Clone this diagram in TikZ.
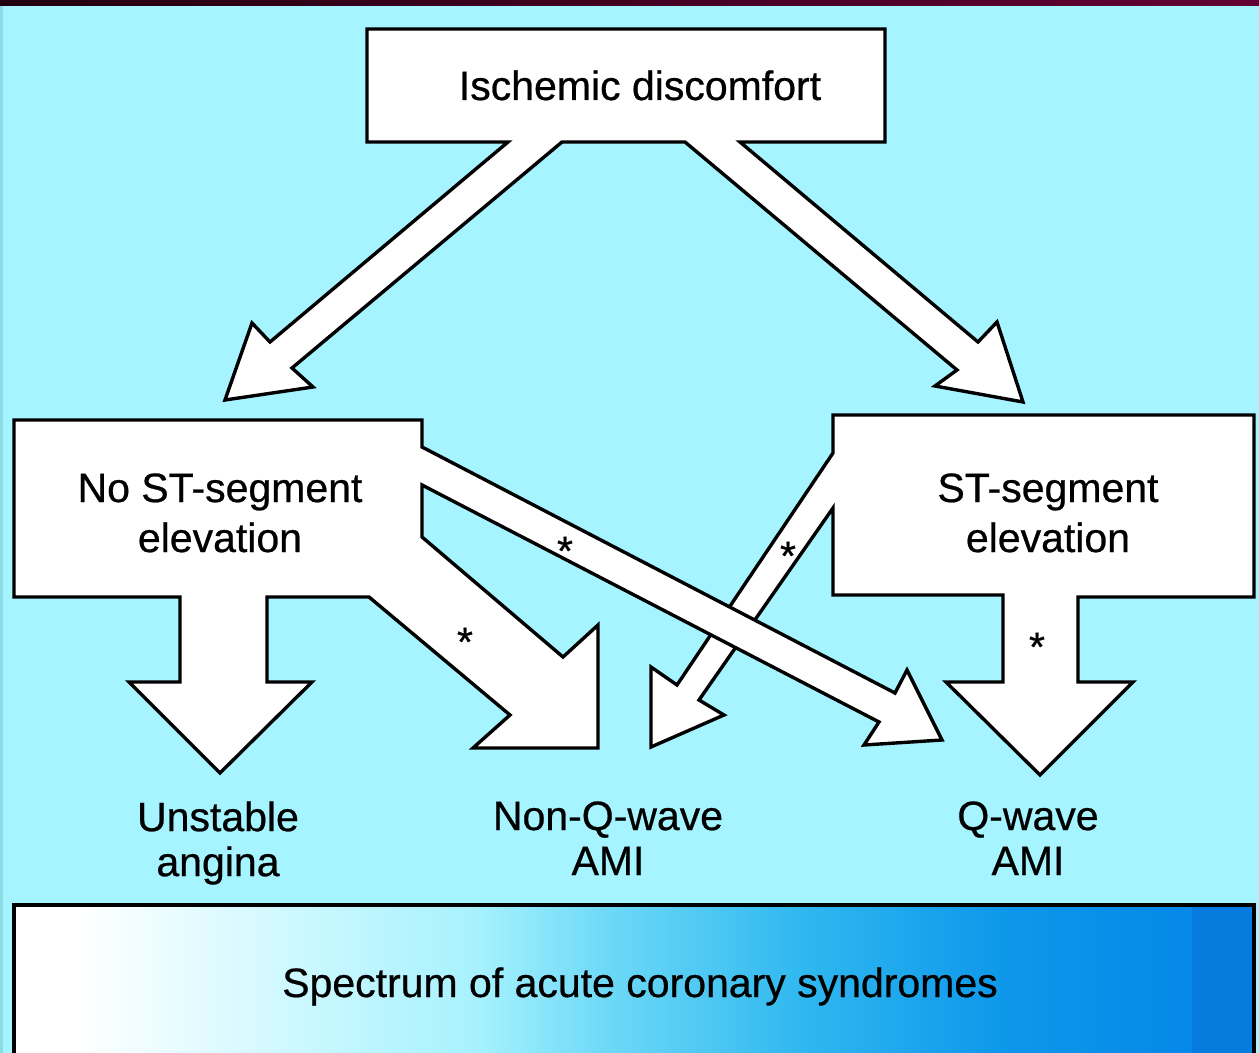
\documentclass[tikz,border=0pt]{standalone}
\usepackage{fontspec}
\setmainfont{Liberation Sans}[FakeBold=0.6]
\definecolor{bgcyan}{HTML}{A5F4FF}
\definecolor{edgecyan}{HTML}{8CDCE8}
\definecolor{topL}{HTML}{22000F}
\definecolor{topR}{HTML}{630033}
\definecolor{gA}{HTML}{FFFFFF}
\definecolor{gB}{HTML}{CCF8FF}
\definecolor{gC}{HTML}{A6F1FD}
\definecolor{gD}{HTML}{70DAF7}
\definecolor{gE}{HTML}{30B8F0}
\definecolor{gF}{HTML}{0E98EA}
\definecolor{gG}{HTML}{0588E8}
\definecolor{gH}{HTML}{067CDE}
\begin{document}
\begin{tikzpicture}[x=0.5pt,y=-0.5pt,
  blockshape/.style={draw=black, fill=white, line width=1.7pt, line join=miter},
  lbl/.style={font=\fontsize{20.5}{25}\selectfont, align=center, inner sep=0pt},
  lbltwo/.style={font=\fontsize{20.5}{22.5}\selectfont, align=center, inner sep=0pt},
  starmark/.style={font=\fontsize{20.5}{25}\selectfont, inner sep=0pt, anchor=base}]
\useasboundingbox (0,0) rectangle (1259,1053);
% background
\fill[bgcyan] (0,0) rectangle (1259,1053);
\fill[edgecyan] (0,6) rectangle (3,1053);
\fill[left color=topL, right color=topR] (0,0) rectangle (1259,6);
% spectrum bar (gradient)
\fill[gA] (14,905) rectangle (80,1053);
\fill[left color=gA, right color=gB] (80,905) rectangle (300,1053);
\fill[left color=gB, right color=gC] (299.5,905) rectangle (480,1053);
\fill[left color=gC, right color=gD] (479.5,905) rectangle (600,1053);
\fill[left color=gD, right color=gE] (599.5,905) rectangle (800,1053);
\fill[left color=gE, right color=gF] (799.5,905) rectangle (1000,1053);
\fill[left color=gF, right color=gG] (999.5,905) rectangle (1192,1053);
\fill[gH] (1192,905) rectangle (1254,1053);
\draw[line width=1.7pt] (14,1060) -- (14,905) -- (1254,905) -- (1254,1060);
% top box with its two arrows
\draw[blockshape] (367,29) -- (885,29) -- (885,142) -- (740,142) -- (978,342)
  -- (997,322) -- (1023,402) -- (935,386) -- (957,370) -- (685,142) -- (562,142)
  -- (292,368) -- (313,387) -- (225,400) -- (252,323) -- (270,342) -- (508,142)
  -- (367,142) -- cycle;
% right box with its two arrows
\draw[blockshape] (833,415) -- (1254,415) -- (1254,597) -- (1078,597) -- (1078,682)
  -- (1133,682) -- (1040,775) -- (946,682) -- (1003,682) -- (1003,595) -- (833,595)
  -- (833,508) -- (699,700) -- (724,715) -- (651,747) -- (651,667) -- (677,685)
  -- (833,453) -- cycle;
% left box with its three arrows
\draw[blockshape] (14,420) -- (422,420) -- (422,447) -- (895,693) -- (907,670)
  -- (942,740) -- (864,745) -- (879,722) -- (422,485) -- (422,537) -- (563,657)
  -- (598,625) -- (598,748) -- (473,748) -- (510,715) -- (369,597) -- (267,597)
  -- (267,682) -- (312,682) -- (220,773) -- (129,682) -- (180,682) -- (180,597)
  -- (14,597) -- cycle;
% labels
\node[lbl, anchor=base] (isch) at (640,100) {Ischemic discomfort};
\node[lbl, anchor=north] (nost) at (220,473) {No ST-segment\\elevation};
\node[lbl, anchor=north] (st) at (1048,473) {ST-segment\\elevation};
\node[lbltwo, anchor=north] (ua) at (218,801) {Unstable\\angina};
\node[lbltwo, anchor=north] (nq) at (608,801) {Non-Q-wave\\AMI};
\node[lbltwo, anchor=north] (qw) at (1028,801) {Q-wave\\AMI};
\node[lbl, anchor=base] (spec) at (640,997) {Spectrum of acute coronary syndromes};
% asterisks
\node[starmark] (s1) at (565,565) {*};
\node[starmark] (s2) at (465,656) {*};
\node[starmark] (s3) at (788,570) {*};
\node[starmark] (s4) at (1037,661) {*};
\end{tikzpicture}
\end{document}
